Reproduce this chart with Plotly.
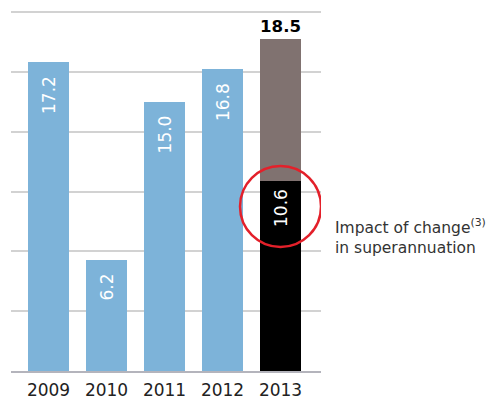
import plotly.graph_objects as go

years = ["2009", "2010", "2011", "2012", "2013"]
blue_values = [17.2, 6.2, 15.0, 16.8, None]
super_impact = [None, None, None, None, 10.6]
total_2013 = 18.5
other_2013 = [None, None, None, None, round(total_2013 - 10.6, 1)]
grid_values = [0, 20 / 6, 40 / 6, 10, 80 / 6, 100 / 6, 20]

BLUE = "#7db3d9"
BROWN = "#807270"
FONT = "DejaVu Sans"
PAD = "\u00a0\u00a0"

fig = go.Figure()
fig.add_trace(go.Bar(
    x=years, y=blue_values, marker_color=BLUE, marker_line_width=0,
    text=[f"{v:.1f}{PAD}" if v is not None else None for v in blue_values],
    textposition="inside", insidetextanchor="end", textangle=-90,
    insidetextfont=dict(color="white", size=17, family=FONT),
))
fig.add_trace(go.Bar(
    x=years, y=super_impact, marker_color="#000000", marker_line_width=0,
    text=[f"{v:.1f}\u00a0" if v is not None else None for v in super_impact],
    textposition="inside", insidetextanchor="end", textangle=-90,
    insidetextfont=dict(color="white", size=17, family=FONT),
))
fig.add_trace(go.Bar(
    x=years, y=other_2013, marker_color=BROWN, marker_line_width=0,
    text=[None, None, None, None, f"{total_2013:.1f}"],
    textposition="outside", textangle=0,
    outsidetextfont=dict(color="#000000", size=17, family=FONT, weight="bold"),
    cliponaxis=False,
))

# red highlight circle and leader line
cy = 9.16
fig.add_shape(type="circle", xref="x", yref="y", xsizemode="pixel", ysizemode="pixel",
              xanchor=4, yanchor=cy, x0=-40.5, x1=40.5, y0=-40.5, y1=40.5,
              line=dict(color="#e3202a", width=2.5), layer="above")
fig.add_shape(type="line", xref="x", yref="y", xsizemode="pixel",
              xanchor=4, x0=40.5, x1=210, y0=cy, y1=cy,
              line=dict(color="#e3202a", width=2.5), layer="above")
fig.add_annotation(xref="x", yref="y", x=4, xshift=52,
                   y=7.5, xanchor="left", yanchor="middle", align="left", showarrow=False,
                   text="Impact of change<sup style='font-size:9px'>(3)</sup><br>in superannuation",
                   font=dict(family=FONT, size=15.5, color="#333333"))

fig.update_layout(
    barmode="stack", bargap=0.293, showlegend=False,
    width=502, height=399,
    margin=dict(l=11, r=181, t=7, b=28),
    plot_bgcolor="white", paper_bgcolor="white",
    font=dict(family=FONT),
    xaxis=dict(type="category", range=[-0.647, 4.698], showgrid=False, automargin=False,
               showline=True, linecolor="#b4b4bc", linewidth=2, ticklabelstandoff=3,
               tickfont=dict(size=17, color="#222222", family=FONT), ticks="", ticklen=0),
    yaxis=dict(range=[0, 20.28], tickvals=grid_values,
               showticklabels=False, automargin=False,
               showgrid=True, gridcolor="#d2d2d2", gridwidth=1.5, zeroline=False),
)
fig.write_html("out.html")
